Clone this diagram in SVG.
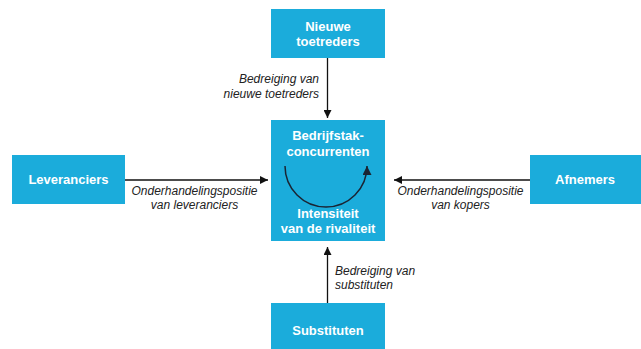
<svg xmlns="http://www.w3.org/2000/svg" width="641" height="349" viewBox="0 0 641 349">
<defs>
<style>
.box{fill:#1BACDB}
.bt{font-family:"Liberation Sans",Arial,sans-serif;font-weight:bold;font-size:13px;fill:#fff;text-anchor:middle}
.lb{font-family:"Liberation Sans",Arial,sans-serif;font-style:italic;font-size:12px;fill:#222}
.con{stroke:#111;stroke-width:1.3;fill:none}
</style>
<marker id="ah" viewBox="0 0 10 10" refX="10" refY="5" markerUnits="userSpaceOnUse" markerWidth="9" markerHeight="8" orient="auto">
<path d="M0,0 L10,5 L0,10 z" fill="#111"/>
</marker>
<marker id="ah2" viewBox="0 0 10 10" refX="10" refY="5" markerUnits="userSpaceOnUse" markerWidth="10" markerHeight="9" orient="auto">
<path d="M0,0 L10,5 L0,10 z" fill="#1a2433"/>
</marker>
</defs>
<rect width="641" height="349" fill="#fff"/>
<g id="connectors">
<line class="con" x1="327.5" y1="58" x2="327.5" y2="118" marker-end="url(#ah)"/>
<line class="con" x1="125" y1="180" x2="268" y2="180" marker-end="url(#ah)"/>
<line class="con" x1="530" y1="180" x2="394" y2="180" marker-end="url(#ah)"/>
<line class="con" x1="327.5" y1="303" x2="327.5" y2="247" marker-end="url(#ah)"/>
<text class="lb" text-anchor="end" x="319" y="83">Bedreiging van</text>
<text class="lb" text-anchor="end" x="319" y="98">nieuwe toetreders</text>
<text class="lb" text-anchor="middle" x="194.5" y="195">Onderhandelingspositie</text>
<text class="lb" text-anchor="middle" x="194.5" y="209">van leveranciers</text>
<text class="lb" text-anchor="middle" x="460.5" y="195">Onderhandelingspositie</text>
<text class="lb" text-anchor="middle" x="460.5" y="209">van kopers</text>
<text class="lb" x="335" y="275">Bedreiging van</text>
<text class="lb" x="335" y="289">substituten</text>
</g>
<g id="nieuwe-toetreders">
<rect class="box" x="271" y="9" width="114" height="49"/>
<text class="bt" x="328" y="31">Nieuwe</text>
<text class="bt" x="328" y="46">toetreders</text>
</g>
<g id="bedrijfstak">
<rect class="box" x="271" y="120" width="114" height="121"/>
<text class="bt" x="328" y="140">Bedrijfstak-</text>
<text class="bt" x="328" y="156">concurrenten</text>
<path d="M285,166 A41,41 0 0 0 367,166 L367,169" stroke="#1a2433" stroke-width="1.5" fill="none"/>
<path d="M367,168 L367,166" stroke="none" fill="none" marker-end="url(#ah2)"/>
<text class="bt" x="328" y="218">Intensiteit</text>
<text class="bt" x="328" y="233">van de rivaliteit</text>
</g>
<g id="leveranciers">
<rect class="box" x="12" y="155" width="113" height="49"/>
<text class="bt" x="68.5" y="184">Leveranciers</text>
</g>
<g id="afnemers">
<rect class="box" x="530" y="155" width="111" height="49"/>
<text class="bt" x="585" y="184">Afnemers</text>
</g>
<g id="substituten">
<rect class="box" x="271" y="303" width="114" height="46"/>
<text class="bt" x="328" y="335">Substituten</text>
</g>
</svg>
